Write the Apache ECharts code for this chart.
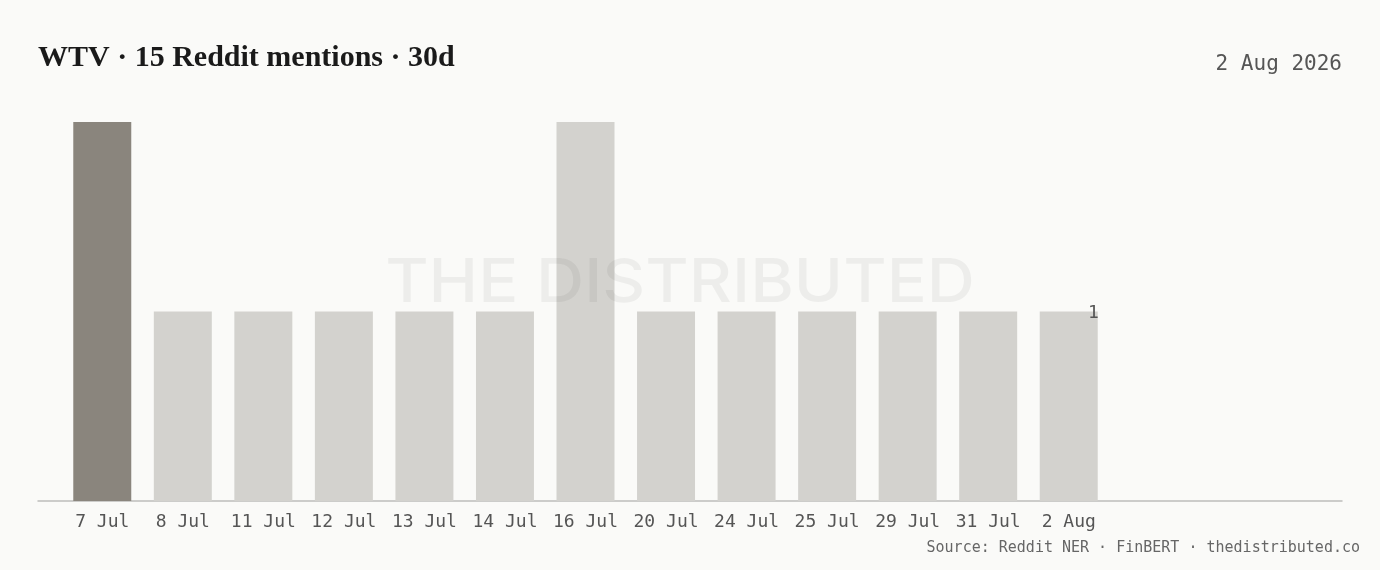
<!DOCTYPE html>
<html>
<head>
<meta charset="utf-8">
<style>
html,body{margin:0;padding:0;background:#fafaf8;}
#c{width:1380px;height:570px;}
</style>
<script src="https://cdn.jsdelivr.net/npm/echarts@6/dist/echarts.min.js"></script>
</head>
<body>
<div id="c"></div>
<script>
const categories = ['7 Jul','8 Jul','11 Jul','12 Jul','13 Jul','14 Jul','16 Jul','20 Jul','24 Jul','25 Jul','29 Jul','31 Jul','2 Aug'];
const mentions = [2,1,1,1,1,1,2,1,1,1,1,1,1];
const highlightIndex = 0;
const titleText = 'WTV · 15 Reddit mentions · 30d';
const dateText = '2 Aug 2026';
const sourceText = 'Source: Reddit NER · FinBERT · thedistributed.co';
const watermarkText = 'THE DISTRIBUTED';

const chart = echarts.init(document.getElementById('c'));
const mono = '"DejaVu Sans Mono", monospace';
chart.setOption({
  backgroundColor: '#fafaf8',
  animation: false,
  title: [
    {text: titleText, left: 38, top: 43, padding: 0,
     textStyle: {fontFamily: '"Liberation Serif", serif', fontWeight: 'bold', fontSize: 30, color: '#1a1a1a'}},
    {text: dateText, right: 38, top: 54, padding: 0,
     textStyle: {fontFamily: mono, fontWeight: 'normal', fontSize: 21, color: '#555'}},
    {text: sourceText, right: 20, top: 541, padding: 0,
     textStyle: {fontFamily: mono, fontWeight: 'normal', fontSize: 15, color: '#666'}}
  ],
  grid: [
    {left: 62, right: 271, top: 122, bottom: 69},
    {left: 38, right: 38, top: 122, bottom: 69}
  ],
  xAxis: [
    {type: 'category', gridIndex: 0, data: categories,
     axisLine: {show: false}, axisTick: {show: false},
     axisLabel: {interval: 0, fontFamily: mono, fontSize: 18, color: '#555', margin: 12}},
    {type: 'value', gridIndex: 1, min: 0, max: 1,
     axisLine: {show: true, lineStyle: {color: '#bdbdbb', width: 1.5}},
     axisTick: {show: false}, axisLabel: {show: false}, splitLine: {show: false}}
  ],
  yAxis: [
    {type: 'value', gridIndex: 0, min: 0, max: 2, show: false},
    {type: 'value', gridIndex: 1, min: 0, max: 1, show: false}
  ],
  series: [{
    type: 'bar', xAxisIndex: 0, yAxisIndex: 0,
    data: mentions.map((v, i) => ({
      value: v,
      itemStyle: {color: i === highlightIndex ? '#8a857d' : '#d3d2ce'},
      label: {show: i === mentions.length - 1}
    })),
    barCategoryGap: '28%',
    label: {position: ['100%', 0], align: 'right', verticalAlign: 'middle', offset: [1, 2],
            fontFamily: mono, fontSize: 18, color: '#555'}
  }],
  graphic: [{
    type: 'text', x: 680, y: 284, scaleX: 1.11, z: 100, silent: true,
    style: {text: watermarkText, font: '500 60px Inter, "Liberation Sans", sans-serif',
            textAlign: 'center', textVerticalAlign: 'middle',
            fill: 'rgba(0,0,0,0.05)'}
  }]
});
</script>
</body>
</html>
